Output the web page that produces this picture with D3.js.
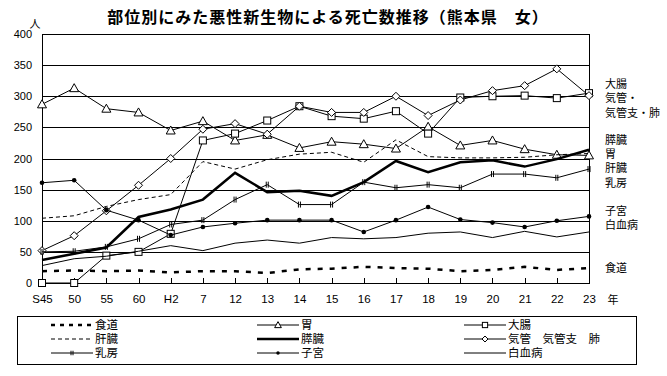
<!DOCTYPE html>
<html>
<head>
<meta charset="utf-8">
<script src="https://cdn.jsdelivr.net/npm/d3@7"></script>
<style>
body { margin: 0; background: white; }
text { font-family: "Liberation Sans", Arial, sans-serif; fill: black; }
.jp { font-family: "Noto Sans CJK JP", sans-serif; }
</style>
</head>
<body>
<div id="grafico"></div>
<script>
// datos
var years = ["S45","50","55","60","H2","7","12","13","14","15","16","17","18","19","20","21","22","23"];

var shokudo  = [19, 20, 19, 20, 17, 19, 19, 16, 22, 23, 26, 24, 23, 19, 21, 26, 21, 24];
var i_       = [287, 313, 280, 274, 245, 260, 229, 238, 217, 227, 223, 216, 251, 221, 229, 215, 206, 205];
var daicho   = [0, 0, 44, 50, 79, 229, 240, 261, 284, 268, 264, 276, 240, 298, 300, 301, 297, 305];
var kanzo    = [104, 108, 123, 134, 142, 195, 183, 198, 207, 210, 194, 230, 203, 201, 201, 202, 206, 208];
var suizo    = [37, 47, 57, 106, 118, 134, 177, 146, 148, 140, 162, 196, 178, 194, 197, 187, 199, 214];
var kikan    = [52, 76, 116, 157, 200, 247, 256, 239, 284, 274, 274, 300, 269, 294, 309, 317, 344, 301];
var nyubo    = [50, 51, 58, 71, 94, 101, 134, 158, 126, 126, 162, 153, 158, 153, 175, 175, 169, 183];
var shikyu   = [161, 165, 117, 101, 77, 90, 96, 101, 101, 101, 82, 101, 122, 102, 97, 90, 100, 107];
var hakketsu = [28, 39, 43, 51, 60, 52, 64, 69, 64, 73, 71, 73, 80, 82, 73, 83, 74, 82];

var seriesNames = ["食道", "胃", "大腸", "肝臓", "膵臓", "気管　気管支　肺", "乳房", "子宮", "白血病"];
var yTicks = [0, 50, 100, 150, 200, 250, 300, 350, 400];
var rightLabels = ["大腸", "気管・", "気管支・肺", "膵臓", "胃", "肝臓", "乳房", "子宮", "白血病", "食道"];

var w = 667, h = 376,
    pLeft = 42, pRight = 589, pTop = 34, pBottom = 283;

// estilo de cada serie
var styles = [
    {width: 2.5, dash: "5,7", marker: null},
    {width: 1, dash: null, marker: "tri"},
    {width: 1, dash: null, marker: "sq"},
    {width: 1, dash: "4,3", marker: null},
    {width: 2.5, dash: null, marker: null},
    {width: 1, dash: null, marker: "dia"},
    {width: 1, dash: null, marker: "tick"},
    {width: 1, dash: null, marker: "dot"},
    {width: 1, dash: null, marker: null}
];
var values = [shokudo, i_, daicho, kanzo, suizo, kikan, nyubo, shikyu, hakketsu];

var svg = d3.select("#grafico")
            .append("svg")
            .attr("width", w)
            .attr("height", h)
            .style("background-color", "white");

var x = d3.scalePoint().domain(years).range([pLeft, pRight]),
    y = d3.scaleLinear().domain([0, 400]).range([pBottom, pTop]);

// rejilla + eje Y
svg.append("g")
    .attr("transform", "translate(" + pLeft + ",0)")
    .call(d3.axisLeft(y).tickValues(yTicks).tickSize(-(pRight - pLeft)).tickSizeOuter(0).tickPadding(10))
    .call(function(g) {
        g.selectAll("line").attr("stroke", "black").attr("shape-rendering", "crispEdges");
        g.select(".domain").attr("stroke", "black").attr("shape-rendering", "crispEdges");
        g.selectAll("text").style("font-size", "11px").style("font-family", "Liberation Sans");
    });

// eje X
svg.append("g")
    .attr("transform", "translate(0," + pBottom + ")")
    .call(d3.axisBottom(x).tickSize(-5).tickSizeOuter(0).tickPadding(12))
    .call(function(g) {
        g.selectAll("line").attr("stroke", "black").attr("shape-rendering", "crispEdges");
        g.select(".domain").attr("stroke", "black").attr("shape-rendering", "crispEdges");
        g.selectAll("text").style("font-size", "11.5px").style("font-family", "Liberation Sans");
    });

svg.append("line")
    .attr("x1", pRight).attr("x2", pRight)
    .attr("y1", pTop).attr("y2", pBottom)
    .attr("stroke", "black")
    .attr("shape-rendering", "crispEdges");

function drawMarker(g, type, cx, cy, s) {
    s = s || 1;
    if (type == "tri") {
        g.append("path")
            .attr("d", "M" + cx + "," + (cy - 4.5 * s) + "L" + (cx + 4.5 * s) + "," + (cy + 3.5 * s) + "L" + (cx - 4.5 * s) + "," + (cy + 3.5 * s) + "Z")
            .attr("fill", "white").attr("stroke", "black");
    } else if (type == "sq") {
        g.append("rect")
            .attr("x", cx - 3.5 * s).attr("y", cy - 3.5 * s)
            .attr("width", 7 * s).attr("height", 7 * s)
            .attr("fill", "white").attr("stroke", "black");
    } else if (type == "dia") {
        g.append("path")
            .attr("d", "M" + cx + "," + (cy - 4 * s) + "L" + (cx + 4 * s) + "," + cy + "L" + cx + "," + (cy + 4 * s) + "L" + (cx - 4 * s) + "," + cy + "Z")
            .attr("fill", "white").attr("stroke", "black");
    } else if (type == "dot") {
        g.append("circle")
            .attr("cx", cx).attr("cy", cy).attr("r", 2.3 * s)
            .attr("fill", "black");
    } else if (type == "tick") {
        g.append("path")
            .attr("d", "M" + (cx - 1) + "," + (cy - 3 * s) + "V" + (cy + 3 * s) + "M" + (cx + 1) + "," + (cy - 3 * s) + "V" + (cy + 3 * s))
            .attr("stroke", "black").attr("stroke-width", 1);
    }
}

var line = d3.line()
    .x(function(d, i) { return x(years[i]); })
    .y(function(d) { return y(d); });

values.forEach(function(v, k) {
    var st = styles[k];
    var g = svg.append("g");
    g.append("path")
        .datum(v)
        .attr("d", line)
        .attr("fill", "none")
        .attr("stroke", "black")
        .attr("stroke-width", st.width)
        .attr("stroke-dasharray", st.dash);
    if (st.marker) {
        v.forEach(function(d, i) {
            drawMarker(g, st.marker, x(years[i]), y(d));
        });
    }
});

// titulo
svg.append("text")
    .attr("class", "jp")
    .attr("x", 328).attr("y", 23)
    .attr("text-anchor", "middle")
    .style("font-size", "16px")
    .style("font-weight", "bold")
    .style("letter-spacing", "1px")
    .text("部位別にみた悪性新生物による死亡数推移（熊本県　女）");

svg.append("text")
    .attr("class", "jp")
    .attr("x", 35).attr("y", 28)
    .attr("text-anchor", "middle")
    .style("font-size", "11px")
    .text("人");

svg.append("text")
    .attr("class", "jp")
    .attr("x", 613).attr("y", 304)
    .attr("text-anchor", "middle")
    .style("font-size", "11px")
    .text("年");

// etiquetas a la derecha
var labelY = [84, 98, 113, 140, 154, 168, 183, 211, 225, 268];
rightLabels.forEach(function(t, k) {
    svg.append("text")
        .attr("class", "jp")
        .attr("x", 605).attr("y", labelY[k])
        .attr("dy", "0.35em")
        .style("font-size", "11px")
        .text(t);
});

// leyenda
svg.append("rect")
    .attr("x", 17.5).attr("y", 316.5)
    .attr("width", 619).attr("height", 48)
    .attr("fill", "none").attr("stroke", "black");

var colX = [51, 257, 464], rowY = [325, 339, 353];
seriesNames.forEach(function(name, k) {
    var c = k % 3, r = Math.floor(k / 3), st = styles[k];
    var x0 = colX[c], x1 = colX[c] + 42, yy = rowY[r];
    var g = svg.append("g");
    g.append("line")
        .attr("x1", x0).attr("x2", x1)
        .attr("y1", yy).attr("y2", yy)
        .attr("stroke", "black")
        .attr("stroke-width", st.width)
        .attr("stroke-dasharray", k == 0 ? "4,5" : st.dash);
    if (st.marker) drawMarker(g, st.marker, (x0 + x1) / 2, yy, 0.75);
    g.append("text")
        .attr("class", "jp")
        .attr("x", x1 + 2).attr("y", yy)
        .attr("dy", "0.35em")
        .style("font-size", "11.5px")
        .text(name);
});
</script>
</body>
</html>
